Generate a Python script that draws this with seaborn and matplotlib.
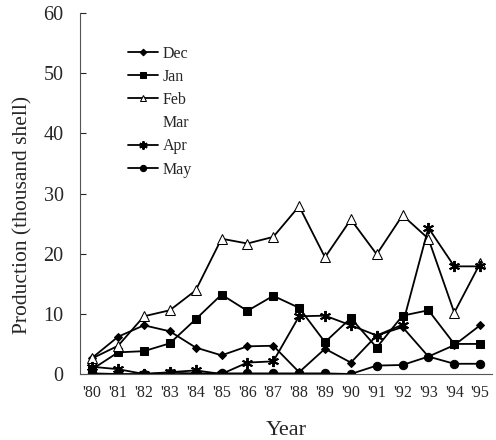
import pandas as pd
import matplotlib
matplotlib.use('Agg')
import matplotlib.pyplot as plt
import seaborn as sns

years = ["'80", "'81", "'82", "'83", "'84", "'85", "'86", "'87",
         "'88", "'89", "'90", "'91", "'92", "'93", "'94", "'95"]

dec = [2.7, 6.2, 8.1, 7.1, 4.4, 3.1, 4.6, 4.7, 0.3, 4.2, 1.9, 6.4, 7.8, 2.9, 4.8, 8.1]
jan = [0.8, 3.6, 3.8, 5.1, 9.1, 13.2, 10.5, 13.0, 11.0, 5.3, 9.3, 4.4, 9.7, 10.6, 5.0, 5.0]
feb = [2.6, 4.7, 9.6, 10.6, 13.9, 22.5, 21.7, 22.8, 27.9, 19.4, 25.7, 19.9, 26.4, 22.5, 10.2, 18.4]
mar = [0, 0, 0, 0, 0, 0, 0, 0, 0, 0, 0, 0, 0, 0, 0, 0]
apr = [1.2, 0.8, 0.0, 0.3, 0.6, 0.0, 1.9, 2.1, 9.6, 9.7, 8.1, 6.4, 8.2, 24.3, 17.9, 17.9]
may = [0.1, 0.0, 0.0, 0.2, 0.1, 0.1, 0.1, 0.1, 0.1, 0.1, 0.0, 1.4, 1.5, 2.9, 1.7, 1.7]

series = {'Dec': dec, 'Jan': jan, 'Feb': feb, 'Mar': mar, 'Apr': apr, 'May': may}

# marker style for each month (Mar is drawn invisible, as in the original)
styles = {
    'Dec': dict(marker='D', markersize=4.5, markerfacecolor='black'),
    'Jan': dict(marker='s', markersize=6, markerfacecolor='black'),
    'Feb': dict(marker='^', markersize=6.5, markerfacecolor='white'),
    'Mar': dict(marker=None, linewidth=0),
    'Apr': dict(marker=(6, 2, 0), markersize=8, markeredgewidth=1.4),
    'May': dict(marker='o', markersize=6, markerfacecolor='black'),
}

sns.set_style('ticks')
plt.rcParams['font.family'] = ['Liberation Serif', 'DejaVu Serif']

fig, ax = plt.subplots(figsize=(4.96, 4.4), dpi=100)
fig.subplots_adjust(left=0.162, right=0.992, bottom=0.15, top=0.97)

x = list(range(len(years)))
for name, vals in series.items():
    kw = dict(linewidth=1.3, markeredgecolor='black')
    kw.update(styles[name])
    sns.lineplot(x=x, y=vals, ax=ax, color='black', label=name, **kw)

ax.set_xlim(-0.46, 15.46)
ax.set_ylim(0, 60)
ax.set_xticks(x)
ax.set_xticklabels(years, fontsize=11.5)
ax.set_yticks(range(0, 61, 10))
ax.tick_params(axis='y', direction='in', length=4, labelsize=14.5, width=0.8, pad=12)
ax.tick_params(axis='x', direction='in', length=0, pad=8)
sns.despine(ax=ax)
for s in ['left', 'bottom']:
    ax.spines[s].set_linewidth(0.8)
    ax.spines[s].set_color('#555555')

ax.set_xlabel('Year', fontsize=16, labelpad=14)
ax.set_ylabel('Production (thousand shell)', fontsize=15.5)
ax.yaxis.set_label_coords(-0.117, 0.44)

ax.legend(loc='upper left', bbox_to_anchor=(0.08, 0.95), frameon=False,
          fontsize=11.5, handlelength=1.9, labelspacing=0.45, handletextpad=0.3,
          markerscale=0.75)

fig.savefig('out.png', dpi=100)
